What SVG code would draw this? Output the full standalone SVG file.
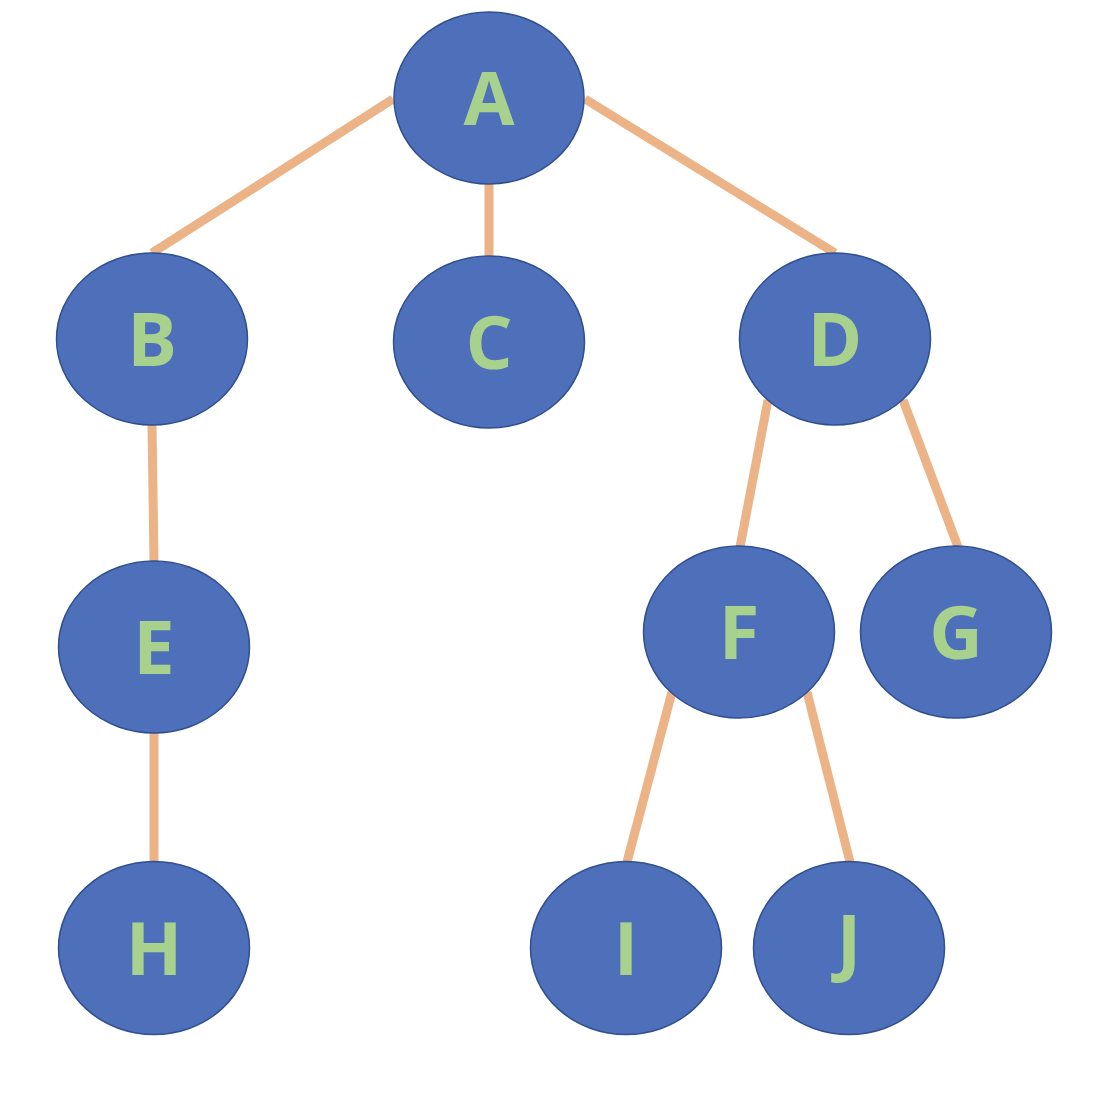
<svg xmlns="http://www.w3.org/2000/svg" width="1100" height="1106" viewBox="0 0 1100 1106">
<style>
.e{stroke:#EBB386;stroke-width:9;fill:none}
.n ellipse{fill:#4E70BA;stroke:#2F4F8F;stroke-width:1.5}
.n text{fill:#A9D18E;font-family:"Open Sans","Liberation Sans",sans-serif;font-weight:bold;font-size:74px;text-anchor:middle}
</style>
<rect width="1100" height="1106" fill="#fff"/>
<g id="edges">
<line class="e" x1="393" y1="99" x2="152" y2="253"/>
<line class="e" x1="489" y1="184" x2="489" y2="257"/>
<line class="e" x1="585" y1="99" x2="835" y2="253"/>
<line class="e" x1="152" y1="425" x2="154" y2="562"/>
<line class="e" x1="768" y1="400" x2="740" y2="547"/>
<line class="e" x1="903" y1="400" x2="958" y2="547"/>
<line class="e" x1="154" y1="733" x2="154" y2="862"/>
<line class="e" x1="672" y1="692" x2="627" y2="862"/>
<line class="e" x1="807" y1="692" x2="850" y2="862"/>
</g>
<g id="A" class="n"><ellipse cx="489" cy="98" rx="95" ry="86"/><text x="489" y="125">A</text></g>
<g id="B" class="n"><ellipse cx="152" cy="339" rx="95.5" ry="86"/><text x="152" y="366">B</text></g>
<g id="C" class="n"><ellipse cx="489" cy="342" rx="95.5" ry="86"/><text x="489" y="369">C</text></g>
<g id="D" class="n"><ellipse cx="835" cy="339" rx="95.5" ry="86"/><text x="835" y="366">D</text></g>
<g id="E" class="n"><ellipse cx="154" cy="647" rx="95.5" ry="86"/><text x="154" y="674">E</text></g>
<g id="F" class="n"><ellipse cx="739" cy="632" rx="95.5" ry="86"/><text x="739" y="659">F</text></g>
<g id="G" class="n"><ellipse cx="956" cy="632" rx="95.5" ry="86"/><text x="956" y="659">G</text></g>
<g id="H" class="n"><ellipse cx="154" cy="948" rx="95.5" ry="86.5"/><text x="154" y="975">H</text></g>
<g id="I" class="n"><ellipse cx="626" cy="948" rx="95.5" ry="86.5"/><text x="626" y="975">I</text></g>
<g id="J" class="n"><ellipse cx="849" cy="948" rx="95.5" ry="86.5"/><text x="849" y="968">J</text></g>
</svg>
